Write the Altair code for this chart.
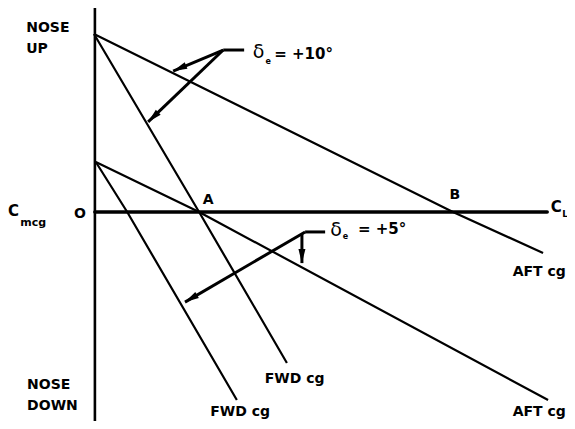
import math
import altair as alt
import pandas as pd

# ---- data (CL along the horizontal axis, Cm_cg vertical) ----
# curves: elevator +10 deg (upper pair) and +5 deg (lower pair)
up_fwd_cl = [0.0, 2.31, 4.24]
up_fwd_cm = [10.0, 0.0, -8.48]
up_aft_cl = [0.0, 7.89, 9.87]
up_aft_cm = [10.0, 0.0, -2.30]
lo_fwd_cl = [0.04, 0.73, 3.14]
lo_fwd_cm = [2.81, 0.0, -10.56]
lo_aft_cl = [0.04, 2.31, 9.98]
lo_aft_cm = [2.81, 0.0, -10.56]

# axes
vert_axis_cl = [0.02, 0.02]
vert_axis_cm = [11.46, -12.3]
horiz_axis_cl = [0.02, 9.96]
horiz_axis_cm = [0.0, 0.0]

# pointer arrows (start -> tip)
arrow_cl0 = [2.84, 2.84, 4.64, 4.57]
arrow_cm0 = [9.10, 9.10, -1.12, -1.24]
arrow_cl1 = [1.74, 1.19, 2.00, 4.57]
arrow_cm1 = [7.92, 5.06, -5.06, -2.87]
leader_cl0 = [2.84, 4.64]
leader_cl1 = [3.30, 5.08]
leader_cm = [9.10, -1.12]

# text labels
big_left_text = ["NOSE", "UP", "NOSE", "DOWN"]
big_left_cl = [-1.49, -1.49, -1.47, -1.47]
big_left_cm = [10.34, 9.16, -9.72, -10.90]

center_text = ["O", "A", "B", "FWD cg", "FWD cg"]
center_cl = [-0.31, 2.51, 7.93, 4.41, 3.21]
center_cm = [-0.11, 0.67, 0.96, -9.38, -11.25]

right_text = ["AFT cg", "AFT cg"]
right_cl = [10.37, 10.37]
right_cm = [-3.37, -11.25]

coef_text = ["C", "C"]
coef_cl = [-1.89, 10.04]
coef_cm = [0.06, 0.28]
sub_text = ["mcg", "L"]
sub_cl = [-1.62, 10.29]
sub_cm = [-0.62, -0.10]

delta_cl = [3.49, 5.19]
delta_cm = [8.98, -1.02]
e_cl = [3.77, 5.47]
e_cm = [8.45, -1.42]
value_text = ["= +10°", "= +5°"]
value_cl = [3.96, 5.80]
value_cm = [8.88, -0.96]

# ---- chart setup ----
W, H = 559, 413
XDOM = [-1.89, 10.396]
YDOM = [-11.74, 11.46]
px_per_cl = W / (XDOM[1] - XDOM[0])
px_per_cm = H / (YDOM[1] - YDOM[0])

xs = alt.Scale(domain=XDOM, nice=False, zero=False)
ys = alt.Scale(domain=YDOM, nice=False, zero=False)


def X(f="CL"):
    return alt.X(f"{f}:Q", scale=xs, axis=None)


def Y(f="Cm"):
    return alt.Y(f"{f}:Q", scale=ys, axis=None)


rows = []
for name, cl, cm in [("up_fwd", up_fwd_cl, up_fwd_cm), ("up_aft", up_aft_cl, up_aft_cm),
                     ("lo_fwd", lo_fwd_cl, lo_fwd_cm), ("lo_aft", lo_aft_cl, lo_aft_cm)]:
    for i, (a, b) in enumerate(zip(cl, cm)):
        rows.append({"line": name, "CL": a, "Cm": b, "o": i})
curves_df = pd.DataFrame(rows)

curves = alt.Chart(curves_df).mark_line(color="black", strokeWidth=2.2).encode(
    x=X(), y=Y(), detail="line:N", order="o:Q")

vaxis = alt.Chart(pd.DataFrame({"CL": vert_axis_cl, "Cm": vert_axis_cm})).mark_line(
    color="black", strokeWidth=2.6).encode(x=X(), y=Y())
haxis = alt.Chart(pd.DataFrame({"CL": horiz_axis_cl, "Cm": horiz_axis_cm})).mark_line(
    color="black", strokeWidth=3.6, strokeCap="round").encode(x=X(), y=Y())

arrows_df = pd.DataFrame({"CL": arrow_cl0, "Cm": arrow_cm0, "CL2": arrow_cl1, "Cm2": arrow_cm1})
arrows_df["angle"] = [
    (math.degrees(math.atan2((b - a) * px_per_cl, (d - c) * px_per_cm)) + 360) % 360
    for a, b, c, d in zip(arrow_cl0, arrow_cl1, arrow_cm0, arrow_cm1)
]
shafts = alt.Chart(arrows_df).mark_rule(color="black", strokeWidth=3).encode(
    x=X(), y=Y(), x2="CL2:Q", y2="Cm2:Q")
heads = alt.Chart(arrows_df).mark_point(
    shape="M0,0L0.5,2L-0.5,2Z", filled=True, color="black", opacity=1, size=196
).encode(x=X("CL2"), y=Y("Cm2"), angle=alt.Angle("angle:Q", scale=None))

leaders = alt.Chart(pd.DataFrame({"CL": leader_cl0, "CL2": leader_cl1, "Cm": leader_cm})).mark_rule(
    color="black", strokeWidth=3).encode(x=X(), x2="CL2:Q", y=Y())

FONT = "DejaVu Sans"


def text_layer(texts, cl, cm, size, align="left", weight="bold", font=FONT):
    df = pd.DataFrame({"t": texts, "CL": cl, "Cm": cm})
    return alt.Chart(df).mark_text(
        font=font, fontSize=size, fontWeight=weight, align=align, baseline="middle",
        color="black").encode(x=X(), y=Y(), text="t:N")


t_big = text_layer(big_left_text, big_left_cl, big_left_cm, 14)
t_center = text_layer(center_text, center_cl, center_cm, 14, align="center")
t_right = text_layer(right_text, right_cl, right_cm, 14, align="right")
t_coef = text_layer(coef_text, coef_cl, coef_cm, 15)
t_sub_m = text_layer(sub_text[:1], sub_cl[:1], sub_cm[:1], 11)
t_sub_l = text_layer(sub_text[1:], sub_cl[1:], sub_cm[1:], 9)
t_delta = text_layer(["δ", "δ"], delta_cl, delta_cm, 19, weight="normal")
t_e = text_layer(["e", "e"], e_cl, e_cm, 8)
t_val = text_layer(value_text, value_cl, value_cm, 15)

chart = alt.layer(
    vaxis, haxis, curves, shafts, leaders, heads,
    t_big, t_center, t_right, t_coef, t_sub_m, t_sub_l, t_delta, t_e, t_val
).properties(
    width=W, height=H, padding=0,
    autosize=alt.AutoSizeParams(type="none"),
    background="white",
).configure_view(stroke=None)

chart.save("out.html", embed_options={"renderer": "svg", "actions": False})
